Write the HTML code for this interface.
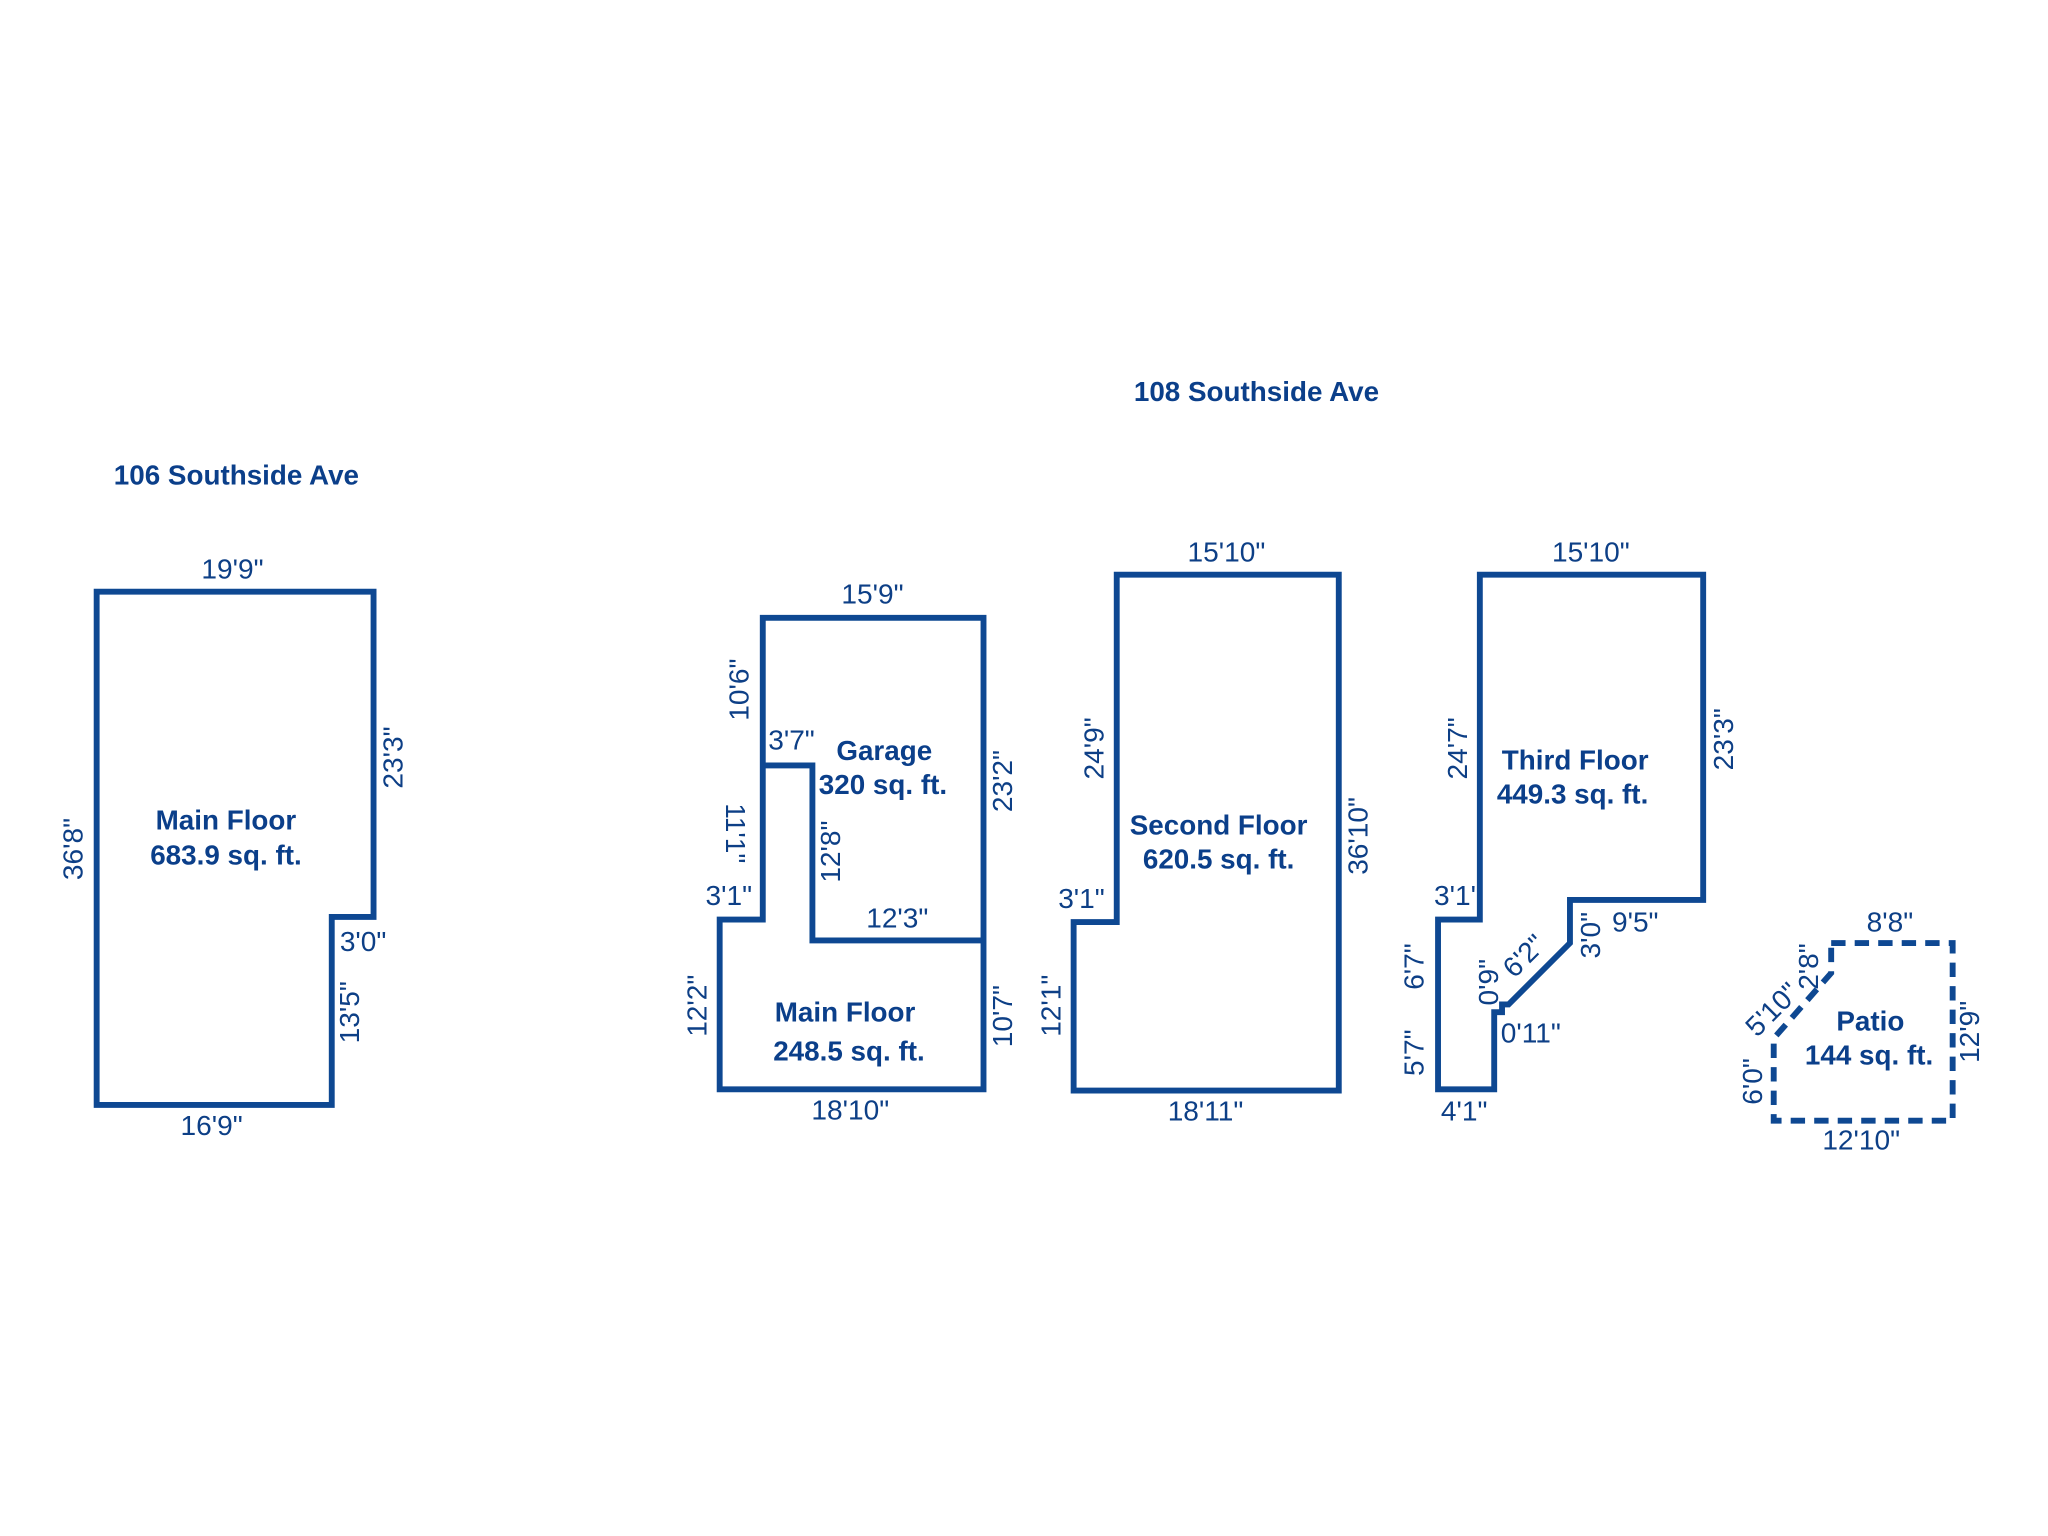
<!DOCTYPE html>
<html><head><meta charset="utf-8"><style>
html,body{margin:0;padding:0;background:#fff;}
svg{display:block;}
text{font-family:"Liberation Sans",Arial,sans-serif;fill:#0d3f86;}
.d{font-size:21.5px;}
.b{font-size:21.3px;font-weight:bold;fill:#0b3f8a;}
.w{fill:none;stroke:#0e4892;stroke-width:4.5;stroke-linejoin:miter;}
</style></head><body>
<svg width="2048" height="1536" viewBox="0 0 1568 1176" xmlns="http://www.w3.org/2000/svg">
<g text-anchor="middle">
<!-- 106 -->
<text class="b" x="181" y="371">106 Southside Ave</text>
<path class="w" d="M74,453 H286 V702 H254 V846 H74 Z"/>
<text class="d" x="178" y="443">19'9"</text>
<text class="d" transform="translate(308,580) rotate(-90)">23'3"</text>
<text class="d" transform="translate(63,650) rotate(-90)">36'8"</text>
<text class="d" x="278" y="728">3'0"</text>
<text class="d" transform="translate(275,775) rotate(-90)">13'5"</text>
<text class="d" x="162" y="869">16'9"</text>
<text class="b" x="173" y="635">Main Floor</text>
<text class="b" x="173" y="662">683.9 sq. ft.</text>

<!-- 108 -->
<text class="b" x="962" y="307">108 Southside Ave</text>
<path class="w" d="M584,473 H753 V834 H551 V704 H584 Z"/>
<path class="w" d="M584,586 H622 V720 H753"/>
<text class="d" x="668" y="462">15'9"</text>
<text class="d" transform="translate(573,528) rotate(-90)">10'6"</text>
<text class="d" x="606" y="574">3'7"</text>
<text class="b" x="677" y="582">Garage</text>
<text class="b" x="676" y="608">320 sq. ft.</text>
<text class="d" transform="translate(556,638) rotate(90)">11'1"</text>
<text class="d" transform="translate(643,652) rotate(-90)">12'8"</text>
<text class="d" transform="translate(775,598) rotate(-90)">23'2"</text>
<text class="d" x="558" y="693">3'1"</text>
<text class="d" x="687" y="710">12'3"</text>
<text class="d" transform="translate(541,770) rotate(-90)">12'2"</text>
<text class="b" x="647" y="782">Main Floor</text>
<text class="b" x="650" y="812">248.5 sq. ft.</text>
<text class="d" transform="translate(775,778) rotate(-90)">10'7"</text>
<text class="d" x="651" y="857">18'10"</text>

<path class="w" d="M855,440 H1025 V835 H822 V706 H855 Z"/>
<text class="d" x="939" y="430">15'10"</text>
<text class="d" transform="translate(845,573) rotate(-90)">24'9"</text>
<text class="b" x="933" y="639">Second Floor</text>
<text class="b" x="933" y="665">620.5 sq. ft.</text>
<text class="d" transform="translate(1047,640) rotate(-90)">36'10"</text>
<text class="d" x="828" y="695">3'1"</text>
<text class="d" transform="translate(812,770) rotate(-90)">12'1"</text>
<text class="d" x="923" y="858">18'11"</text>

<path class="w" d="M1133,440 H1304 V689 H1202 V722 L1155,769 H1150 V775 H1144 V834 H1101 V704 H1133 Z"/>
<text class="d" x="1218" y="430">15'10"</text>
<text class="d" transform="translate(1123,573) rotate(-90)">24'7"</text>
<text class="b" x="1206" y="589">Third Floor</text>
<text class="b" x="1204" y="615">449.3 sq. ft.</text>
<text class="d" transform="translate(1327,566) rotate(-90)">23'3"</text>
<text class="d" x="1114" y="693">3'1'</text>
<text class="d" x="1252" y="713">9'5"</text>
<text class="d" transform="translate(1225,716) rotate(-90)">3'0"</text>
<text class="d" transform="translate(1172,737) rotate(-45)">6'2"</text>
<text class="d" transform="translate(1090,740) rotate(-90)">6'7"</text>
<text class="d" transform="translate(1147,752) rotate(-90)">0'9"</text>
<text class="d" x="1172" y="798">0'11"</text>
<text class="d" transform="translate(1090,806) rotate(-90)">5'7"</text>
<text class="d" x="1121" y="858">4'1"</text>

<path class="w" stroke-dasharray="11,7" d="M1402,722 H1495 V858 H1358 V795 L1402,745 Z"/>
<text class="d" x="1447" y="713">8'8"</text>
<text class="d" transform="translate(1392,740) rotate(-90)">2'8"</text>
<text class="d" transform="translate(1362,778) rotate(-45)">5'10"</text>
<text class="b" x="1432" y="789">Patio</text>
<text class="b" x="1431" y="815">144 sq. ft.</text>
<text class="d" transform="translate(1515,790) rotate(-90)">12'9"</text>
<text class="d" transform="translate(1349,828) rotate(-90)">6'0"</text>
<text class="d" x="1425" y="880">12'10"</text>
</g>
</svg>
</body></html>
